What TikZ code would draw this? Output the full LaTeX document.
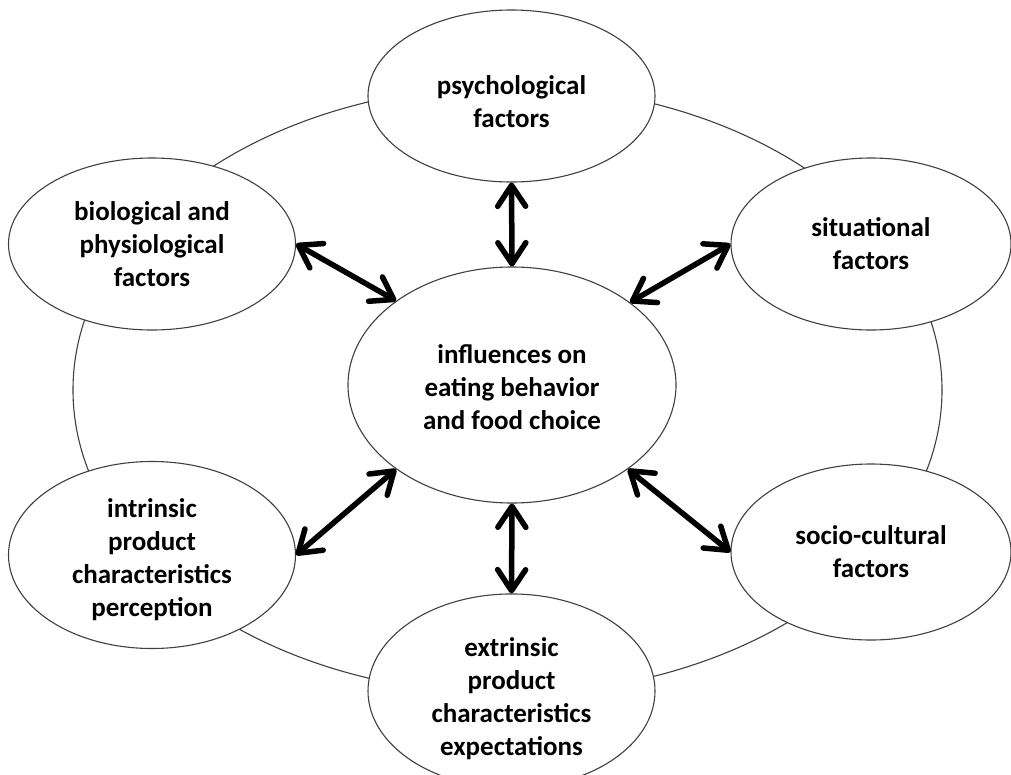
\documentclass[tikz,border=0pt]{standalone}
\usepackage{fontspec}
\setmainfont{Carlito}
\usetikzlibrary{shapes.geometric,arrows.meta}
\newcommand\downstrut[1]{\rule{0pt}{#1}}
\tikzset{
  oval/.style={ellipse,draw=black!75,line width=1.1pt,fill=white,inner sep=0pt,
    minimum width=287pt,minimum height=172pt,align=center,
    font=\fontsize{27}{33}\selectfont\bfseries},
  barb/.tip={Straight Barb[length=21pt,width=28pt,line cap=round,line join=round]},
  link/.style={line width=5.5pt,line cap=round,barb-barb}
}
\begin{document}
\begin{tikzpicture}[x=1pt,y=-1pt]
\useasboundingbox (0,0) rectangle (1011,774);
\fill[white] (0,0) rectangle (1011,774);
\draw[black!75,line width=1.1pt] (507.5,390) ellipse [x radius=434.5pt,y radius=304pt];
\node[oval] (psy) at (511.5,96) {\downstrut{31pt}psychological\\factors};
\node[oval] (bio) at (152,244) {biological and\\physiological\\factors};
\node[oval,minimum width=280pt] (sit) at (871,244) {situational\\factors};
\node[oval,minimum width=328pt,minimum height=236pt] (cen) at (512,385) {\downstrut{23pt}influences on\\eating behavior\\and food choice};
\node[oval] (int) at (152,555) {\downstrut{29pt}intrinsic\\product\\characteristics\\perception};
\node[oval,minimum width=280pt,minimum height=176pt] (soc) at (871,552) {socio-cultural\\factors};
\node[oval] (ext) at (511.5,691) {\downstrut{34pt}extrinsic\\product\\characteristics\\expectations};
\draw[link] (psy.south) -- (cen.north);
\draw[link] (cen.south) -- (ext.north);
\draw[link] (bio.east) -- (cen.144.6);
\draw[link] (cen.35.4) -- (sit.west);
\draw[link] (int.east) -- (cen.216);
\draw[link] (cen.324.4) -- (soc.west);
\end{tikzpicture}
\end{document}
